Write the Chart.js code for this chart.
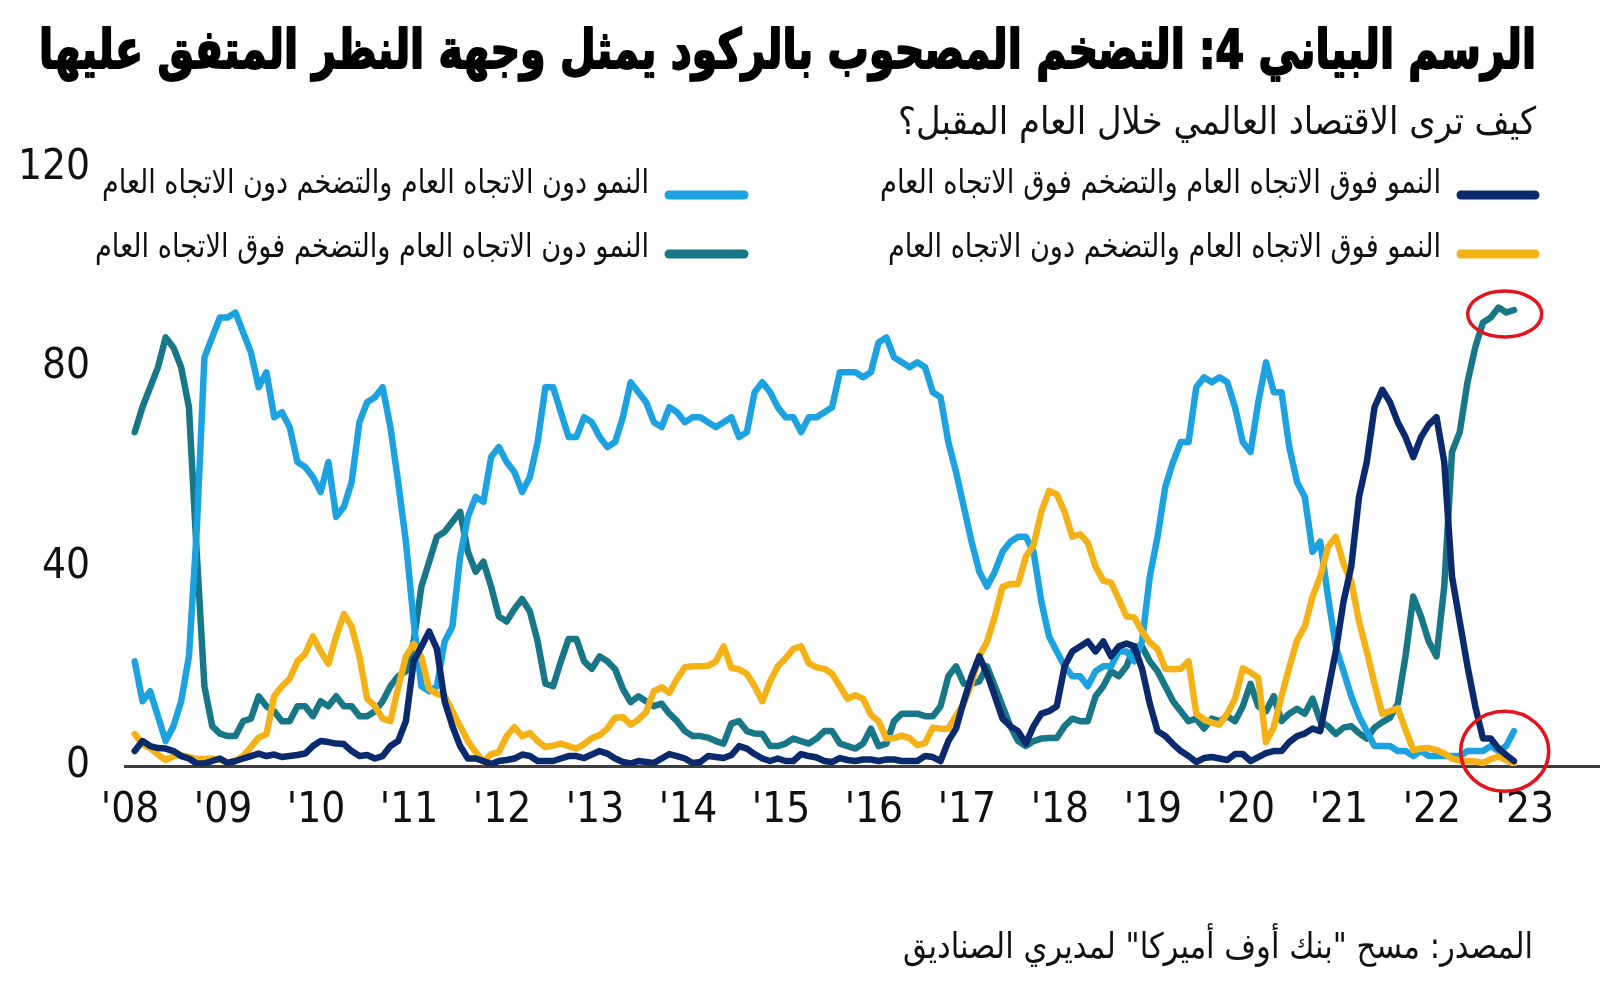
<!DOCTYPE html>
<html lang="ar">
<head>
<meta charset="utf-8">
<title>الرسم البياني 4</title>
<script src="https://cdn.jsdelivr.net/npm/chart.js@4.4.1/dist/chart.umd.min.js"></script>
<style>
    html, body { margin: 0; padding: 0; background: #fff; }
    #wrap { position: relative; width: 1600px; height: 997px; }
</style>
</head>
<body>
<div id="wrap"><canvas id="myChart"></canvas></div>
<script>
const titleText = 'الرسم البياني 4: التضخم المصحوب بالركود يمثل وجهة النظر المتفق عليها';
const subtitleText = 'كيف ترى الاقتصاد العالمي خلال العام المقبل؟';
const sourceText = 'المصدر: مسح "بنك أوف أميركا" لمديري الصناديق';

const seriesLabels = [
    'النمو فوق الاتجاه العام والتضخم فوق الاتجاه العام',
    'النمو فوق الاتجاه العام والتضخم دون الاتجاه العام',
    'النمو دون الاتجاه العام والتضخم دون الاتجاه العام',
    'النمو دون الاتجاه العام والتضخم فوق الاتجاه العام'
];

const yearLabels = ["'08", "'09", "'10", "'11", "'12", "'13", "'14", "'15", "'16", "'17", "'18", "'19", "'20", "'21", "'22", "'23"];
const yTicks = [0, 40, 80, 120];

// monthly survey readings, Jan 2008 -> Nov 2022 (% of respondents)
const highGrowthHighInfl = [
    3, 5, 4, 3.6, 3.5, 3, 2, 1.5, 0.5, 0.5, 1, 1.5,
    0.6, 1, 1.5, 2, 2.5, 2, 2.3, 1.8, 2, 2.2, 2.5, 4,
    5, 4.8, 4.5, 4.4, 3, 2, 2.2, 1.5, 2, 4, 5, 9,
    21, 24, 27, 23.5, 13, 8, 4, 1.5, 1.5, 1, 0.4, 1,
    1.2, 1.5, 2.3, 2, 1, 1, 1, 1.5, 2, 2, 1.6, 2.3,
    3, 2.5, 1.5, 0.8, 0.5, 1, 0.8, 0.6, 1.5, 2.4, 2, 1.5,
    0.6, 0.8, 2, 1.8, 1.6, 2.2, 4, 3.5, 2.4, 1.5, 1, 1.5,
    1, 1, 2.4, 2, 1.7, 1, 0.8, 1.6, 1.2, 1, 1.3, 1.3,
    1, 1.3, 1.3, 1, 1, 1, 2, 1.8, 1, 5, 7.5, 13,
    18, 22, 18.5, 14, 9.5, 8, 7, 4.5, 8, 10.5, 11, 12,
    20, 23, 24, 25, 23, 25, 22, 24, 24.6, 24, 19.5, 12.5,
    7, 6, 4.4, 3, 2, 0.8, 1.6, 1.8, 1.5, 1.2, 2.4, 2.4,
    1, 1.8, 2.6, 3, 3, 4.8, 6, 6.5, 7.5, 7, 15, 23,
    33, 40, 54, 61, 72, 75.5, 73, 69, 66, 62, 66, 68.5,
    70, 61, 38, 29, 20, 12, 5.5, 5.5, 3.5, 2.2, 1
];

const highGrowthLowInfl = [
    6.4, 4.4, 3.6, 2.3, 1.2, 2, 2.2, 1.8, 1.4, 1.4, 1.5, 1.2,
    0.7, 1, 2, 3.8, 5.7, 6.4, 14, 16, 17.5, 21, 22.5, 26,
    23, 20.5, 26, 30.5, 28, 22, 13.5, 12, 9.5, 9, 15.7, 22,
    24.5, 21.8, 15.5, 14.5, 14, 11, 8, 5, 2.8, 0.8, 2.4, 2.8,
    6, 7.8, 6, 6.6, 5, 3.8, 4.1, 4.5, 4, 3.5, 4.4, 5.6,
    6.2, 7.5, 9.7, 9.8, 8.3, 9.3, 10.8, 15, 15.8, 14.7, 17.5, 19.8,
    20, 20, 20.1, 21, 24, 19.7, 19.4, 18.5, 16, 13, 17, 20,
    21.6, 23.5, 24, 20.6, 19.8, 19.5, 18.5, 16, 13.5, 14.2, 13.5, 10.3,
    9, 5.5, 5.6, 6.1, 5.6, 4.2, 4.6, 7.7, 7.5, 7.5, 10.1, 12.5,
    16.7, 22, 25, 30, 36, 36.5, 36.5, 42, 44.3, 51, 55.2, 54.5,
    51, 46, 46.5, 44.8, 40, 37.2, 36.8, 33.5, 30, 29.8, 27, 24.8,
    23.5, 19.5, 19.4, 19.5, 21, 10.5, 9.3, 8.7, 8.3, 10.5, 13.5, 19.6,
    18.8, 17.7, 4.8, 7.8, 14, 19.8, 25.2, 28, 34, 38, 44, 46,
    40.6, 37, 29, 23, 16.5, 10.5, 11, 11.6, 7.3, 3.2, 3.5, 3.6,
    3.2, 2.5, 1.5, 1.1, 1, 0.9, 0.6, 1.4, 1.9, 1.2, 0.4
];

const lowGrowthLowInfl = [
    21, 13, 15, 10, 5, 8, 13, 22, 47, 82, 86, 90,
    90, 91, 87, 83, 76, 79, 70, 71, 68, 61, 60, 58,
    55, 61, 50, 52, 57, 69, 73, 74, 76, 68, 57, 45,
    29, 16, 15, 16, 25, 28, 42, 50, 54, 53, 62, 64,
    61, 59, 55, 58, 65, 76, 76, 71, 66, 66, 70, 69,
    66, 64, 65, 70, 77, 75, 73, 69, 68, 72, 71, 69,
    70, 70, 69, 68, 69, 70, 66, 67, 75, 77, 75, 72,
    70, 70, 67, 70, 70, 71, 72, 79, 79, 79, 78, 79,
    85, 86, 82, 81, 80, 81, 80, 75, 74, 65, 59, 52,
    45, 39, 36, 39, 43, 45, 46, 46, 43, 33, 26, 23,
    20, 18, 18, 16, 19, 20, 20, 23, 23, 21, 25, 38,
    46, 56, 61, 65, 65, 76, 78, 77, 78, 77, 72, 65,
    63, 73, 81, 75, 75, 64, 57, 54, 43, 45, 34, 24,
    19, 14, 10, 7, 4, 4, 4, 3, 3, 2, 3, 2,
    2, 2, 2, 2, 3, 3, 3, 4, 3, 4, 7
];

const lowGrowthHighInfl = [
    67, 72, 76, 80, 86, 84, 80, 72, 43, 16, 8, 6.5,
    6, 6, 9, 9.5, 14, 12, 11, 9, 9, 12, 12, 10,
    13, 12, 14, 12, 12, 10, 10, 11, 13, 16, 18, 19,
    25, 36, 41, 46, 47, 49, 51, 43, 39, 41, 36, 30,
    29, 31.5, 33.5, 31, 25, 16.5, 16, 21, 25.5, 25.5, 21, 19.5,
    22, 21, 19.4, 15.5, 12.8, 14, 13, 12, 12.5, 10.5, 9, 7,
    6, 6, 5.7, 5, 4.5, 8.5, 9, 7, 6.5, 6.4, 4, 4,
    4.5, 5.5, 5, 4.5, 5.5, 7, 7, 4.5, 4, 3.5, 4.5, 7.5,
    4, 4.5, 9, 10.5, 10.5, 10.5, 10, 10, 12, 18, 20, 16.5,
    16.5, 17, 20, 16, 12, 8, 5, 4, 5, 5.5, 5.6, 5.6,
    8, 9.5, 9, 9, 14, 16, 19, 18, 20, 24, 24, 21,
    19, 16, 13, 11, 9, 9.5, 7.5, 9.5, 9, 10, 9, 12,
    16.5, 12, 11, 14, 9, 10.5, 11.5, 10.5, 13.5, 9, 8, 6.4,
    7.7, 8, 6.6, 5.5, 7.7, 8.8, 9.7, 12.5, 22, 34, 30, 25,
    22, 36, 63, 67, 77, 84, 89, 90, 92, 91, 91.5
];

const startMonth = 0.6; // first survey sits just right of the '08 tick
const toPoints = (values) => values.map((v, i) => ({x: i + startMonth, y: v}));

const arabicFont = "'DejaVu Sans Condensed', 'DejaVu Sans', sans-serif";
const narrowFont = "'Liberation Sans Narrow', 'DejaVu Sans Condensed', sans-serif";

// draw rtl text with its right edge at `right`, squeezed/stretched to `width`
const drawArabic = (ctx, text, font, right, baseline, width, color, stroke = 0) => {
    ctx.save();
    ctx.font = font;
    ctx.direction = 'rtl';
    ctx.textAlign = 'right';
    ctx.textBaseline = 'alphabetic';
    ctx.fillStyle = color;
    const w = ctx.measureText(text).width;
    ctx.translate(right, baseline);
    ctx.scale(width / w, 1);
    ctx.fillText(text, 0, 0);
    if (stroke) {
        ctx.strokeStyle = color;
        ctx.lineWidth = stroke;
        ctx.lineJoin = 'round';
        ctx.strokeText(text, 0, 0);
    }
    ctx.restore();
};

const legendSlots = [
    {right: 1441, baseline: 193, width: 561, lineFrom: 1461, lineTo: 1535, lineY: 195},
    {right: 1441, baseline: 257, width: 553, lineFrom: 1461, lineTo: 1535, lineY: 254},
    {right: 649, baseline: 193, width: 547, lineFrom: 669, lineTo: 744, lineY: 195},
    {right: 649, baseline: 257, width: 554, lineFrom: 669, lineTo: 744, lineY: 254}
];

const textPlugin = {
    id: 'texts',
    afterDraw(chart) {
        const ctx = chart.ctx;
        drawArabic(ctx, titleText, `bold 54px ${arabicFont}`, 1536, 68, 1497, '#000', 2);
        drawArabic(ctx, subtitleText, `38px ${arabicFont}`, 1536, 134, 638, '#111');
        drawArabic(ctx, sourceText, `35px ${arabicFont}`, 1533, 958, 630, '#111');

        chart.data.datasets.forEach((ds, i) => {
            const s = legendSlots[i];
            ctx.save();
            ctx.strokeStyle = ds.borderColor;
            ctx.lineWidth = 9;
            ctx.lineCap = 'round';
            ctx.beginPath();
            ctx.moveTo(s.lineFrom, s.lineY);
            ctx.lineTo(s.lineTo, s.lineY);
            ctx.stroke();
            ctx.restore();
            drawArabic(ctx, ds.label, `33px ${arabicFont}`, s.right, s.baseline, s.width, '#111');
        });
    }
};

// red rings round the latest readings
const ringPlugin = {
    id: 'rings',
    afterDatasetsDraw(chart) {
        const ctx = chart.ctx;
        const xs = chart.scales.x;
        const ys = chart.scales.y;
        const last = lowGrowthHighInfl.length - 1;
        const mean = (arr) => arr.slice(last - 4).reduce((a, b) => a + b, 0) / 5;
        const cx = xs.getPixelForValue(last - 1.2 + startMonth);
        const top = mean(lowGrowthHighInfl);
        const bottom = (mean(highGrowthHighInfl) + mean(highGrowthLowInfl) + mean(lowGrowthLowInfl)) / 3;
        ctx.save();
        ctx.strokeStyle = '#e3141d';
        ctx.lineWidth = 3.5;
        ctx.beginPath();
        ctx.ellipse(cx, ys.getPixelForValue(top), 37, 23, 0, 0, Math.PI * 2);
        ctx.stroke();
        ctx.beginPath();
        ctx.ellipse(cx, ys.getPixelForValue(bottom), 44, 40, 0, 0, Math.PI * 2);
        ctx.stroke();
        ctx.restore();
    }
};

let chart = null;

const myChart = () => {
    const ctx = document.getElementById('myChart').getContext('2d');
    if (chart) {
        chart.destroy();
    }
    const lineStyle = {pointRadius: 0, borderWidth: 6.5, tension: 0, borderJoinStyle: 'round', borderCapStyle: 'round', fill: false};
    chart = new Chart(ctx, {
        type: 'line',
        data: {
            datasets: [
                {label: seriesLabels[0], data: toPoints(highGrowthHighInfl), borderColor: '#0b2a6e', ...lineStyle},
                {label: seriesLabels[1], data: toPoints(highGrowthLowInfl), borderColor: '#f4b217', ...lineStyle},
                {label: seriesLabels[2], data: toPoints(lowGrowthLowInfl), borderColor: '#1ca2e1', ...lineStyle},
                {label: seriesLabels[3], data: toPoints(lowGrowthHighInfl), borderColor: '#177787', ...lineStyle}
            ]
        },
        options: {
            responsive: true,
            maintainAspectRatio: false,
            animation: false,
            layout: {padding: {top: 168, left: 0, right: 0, bottom: 0}},
            plugins: {
                legend: {display: false},
                tooltip: {enabled: false}
            },
            scales: {
                x: {
                    type: 'linear',
                    min: -0.65,
                    max: 189.7,
                    grid: {display: false, drawTicks: false},
                    border: {display: true, color: '#3d3d3d', width: 3},
                    afterBuildTicks: (scale) => {
                        scale.ticks = yearLabels.map((_, i) => ({value: i * 12}));
                    },
                    afterFit: (scale) => { scale.height = 997 - 766; },
                    ticks: {
                        autoSkip: false,
                        maxRotation: 0,
                        padding: 20,
                        color: '#111',
                        font: {family: narrowFont, size: 42},
                        callback: (value) => yearLabels[Math.round(value / 12)]
                    }
                },
                y: {
                    min: 0,
                    max: 120,
                    grid: {display: false, drawTicks: false},
                    border: {display: false},
                    afterBuildTicks: (scale) => {
                        scale.ticks = yTicks.map(v => ({value: v}));
                    },
                    afterFit: (scale) => { scale.width = 125; },
                    ticks: {
                        padding: 35,
                        color: '#111',
                        font: {family: narrowFont, size: 42}
                    }
                }
            }
        },
        plugins: [ringPlugin, textPlugin]
    });
};

document.addEventListener('DOMContentLoaded', () => {
    try {
        myChart();
    } catch (error) {
        console.error('Error drawing chart:', error);
    }
});
</script>
</body>
</html>
